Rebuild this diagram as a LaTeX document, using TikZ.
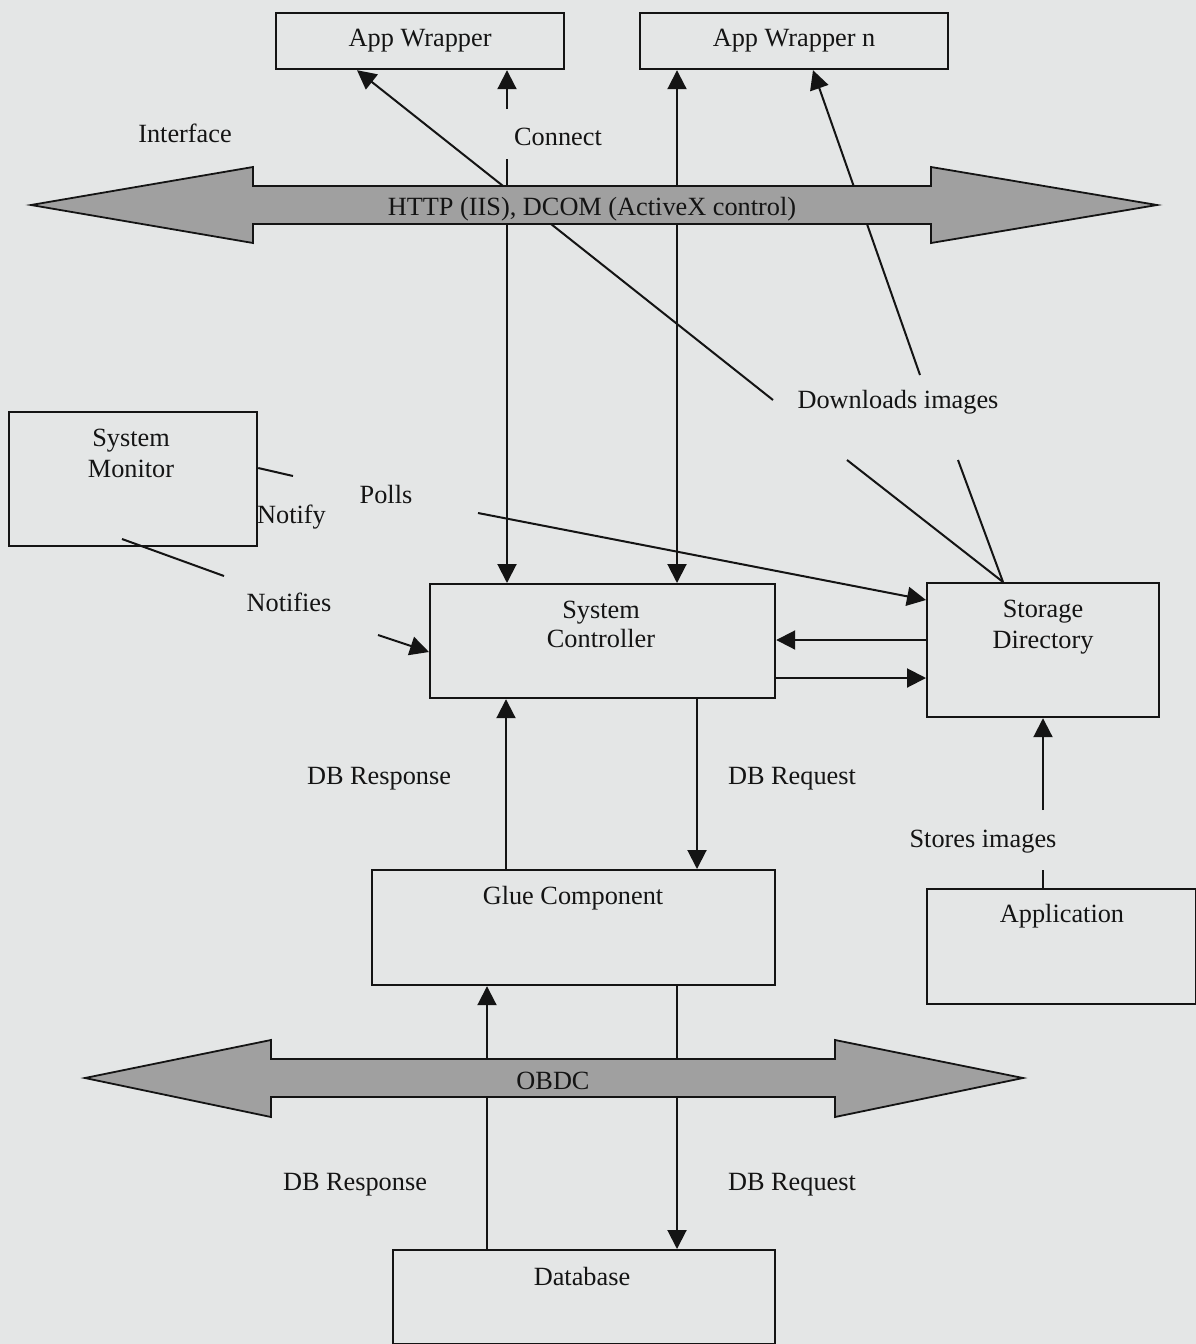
\documentclass[tikz,border=0pt]{standalone}
\usepackage{fontspec}
\setmainfont{Liberation Serif}
\usetikzlibrary{arrows.meta}
\definecolor{paper}{RGB}{228,230,230}
\definecolor{busgray}{RGB}{160,160,160}
\definecolor{ink}{RGB}{20,20,20}
\begin{document}
\begin{tikzpicture}[x=1pt,y=-1pt,
  every node/.style={font=\fontsize{26.3}{31}\selectfont, inner sep=0pt, text=ink},
  box/.style={draw=ink, line width=2.2pt, rectangle, anchor=north west},
  lbl/.style={anchor=base},
  conn/.style={draw=ink, line width=2pt},
  arr/.style={conn, -{Triangle[length=19pt,width=19pt]}},
  darr/.style={conn, {Triangle[length=19pt,width=19pt]}-{Triangle[length=19pt,width=19pt]}},
  bus/.style={draw=ink, line width=1.8pt, fill=busgray, line join=miter},
]
\useasboundingbox (0,0) rectangle (1196,1344);
\fill[paper] (0,0) rectangle (1196,1344);

% ---------- components ----------
\node[box, minimum width=288, minimum height=56] (aw)   at (275,12)   {App Wrapper};
\node[box, minimum width=308, minimum height=56] (awn)  at (639,12)   {App Wrapper n};
\node[box, minimum width=248, minimum height=134] (mon) at (8,411)    {};
\node[box, minimum width=345, minimum height=114] (ctrl) at (429,583) {};
\node[box, minimum width=232, minimum height=134] (stor) at (926,582) {};
\node[box, minimum width=403, minimum height=115] (glue) at (371,869) {};
\node[box, minimum width=269, minimum height=115] (app)  at (926,888) {};
\node[box, minimum width=382, minimum height=94]  (db)   at (392,1249) {};

% box captions
\node[lbl] (monA)  at (131,446)  {System};
\node[lbl] (monB)  at (131,477)  {Monitor};
\node[lbl] (ctrlA) at (601,618)  {System};
\node[lbl] (ctrlB) at (601,647)  {Controller};
\node[lbl] (storA) at (1043,617) {Storage};
\node[lbl] (storB) at (1043,648) {Directory};
\node[lbl] (glueT) at (573,904)  {Glue Component};
\node[lbl] (appT)  at (1062,922) {Application};
\node[lbl] (dbT)   at (582,1285) {Database};

% ---------- free ends and crossing positions ----------
\coordinate (dlLeft)    at (773,400);
\coordinate (dlRight)   at (920,375);
\coordinate (dlS1)      at (847,460);
\coordinate (dlS2)      at (958,460);
\coordinate (xStorTop)  at (1003,0);
\coordinate (xAwDiag)   at (357,0);
\coordinate (xAwnDiag)  at (813,0);
\coordinate (xConn)     at (507,0);
\coordinate (xDual)     at (677,0);
\coordinate (connLow)   at (507,109);
\coordinate (connHigh)  at (507,159);
\coordinate (pollStart) at (478,513);
\coordinate (yPoll)     at (0,600);
\coordinate (yNotify)   at (0,468);
\coordinate (notifyEnd) at (293,476);
\coordinate (nfA)       at (122,539);
\coordinate (nfB)       at (224,576);
\coordinate (nfC)       at (378,635);
\coordinate (yNf)       at (0,652);
\coordinate (yS2C)      at (0,640);
\coordinate (yC2S)      at (0,678);
\coordinate (xResp)     at (506,0);
\coordinate (xReq)      at (697,0);
\coordinate (storesTop) at (1043,810);
\coordinate (storesBot) at (1043,870);
\coordinate (xLowResp)  at (487,0);
\coordinate (xLowReq)   at (677,0);

% ---------- connectors ----------
\draw[arr]  (dlLeft) -- (aw.south -| xAwDiag);
\draw[arr]  (dlRight) -- (awn.south -| xAwnDiag);
\draw[conn] (stor.north -| xStorTop) -- (dlS1);
\draw[conn] (stor.north -| xStorTop) -- (dlS2);
\draw[arr]  (connLow) -- (aw.south -| xConn);
\draw[arr]  (connHigh) -- (ctrl.north -| xConn);
\draw[darr] (awn.south -| xDual) -- (ctrl.north -| xDual);
\draw[arr]  (pollStart) -- (stor.west |- yPoll);
\draw[conn] (mon.east |- yNotify) -- (notifyEnd);
\draw[conn] (nfA) -- (nfB);
\draw[arr]  (nfC) -- (ctrl.west |- yNf);
\draw[arr]  (stor.west |- yS2C) -- (ctrl.east |- yS2C);
\draw[arr]  (ctrl.east |- yC2S) -- (stor.west |- yC2S);
\draw[arr]  (glue.north -| xResp) -- (ctrl.south -| xResp);
\draw[arr]  (ctrl.south -| xReq) -- (glue.north -| xReq);
\draw[arr]  (storesTop) -- (stor.south -| storesTop);
\draw[conn] (storesBot) -- (app.north -| storesBot);
\draw[arr]  (db.north -| xLowResp) -- (glue.south -| xLowResp);
\draw[arr]  (glue.south -| xLowReq) -- (db.north -| xLowReq);

% ---------- buses ----------
\path[bus] (31,205) -- (253,167) -- (253,186) -- (931,186) -- (931,167) -- (1157,205)
  -- (931,243) -- (931,224) -- (253,224) -- (253,243) -- cycle;
\node[lbl] (httpT) at (592,215) {HTTP (IIS), DCOM (ActiveX control)};

\path[bus] (85,1078) -- (271,1040) -- (271,1059) -- (835,1059) -- (835,1040) -- (1023,1078)
  -- (835,1117) -- (835,1097) -- (271,1097) -- (271,1117) -- cycle;
\node[lbl] (odbcT) at (553,1089) {OBDC};

% ---------- connector labels ----------
\node[lbl] (ifaceT)  at (185,142)  {Interface};
\node[lbl] (connT)   at (558,145)  {Connect};
\node[lbl] (dlT)     at (898,408)  {Downloads images};
\node[lbl, anchor=base west] (notifyT) at (257,523) {Notify};
\node[lbl] (pollsT)  at (386,503)  {Polls};
\node[lbl] (nfT)     at (289,611)  {Notifies};
\node[lbl] (respT)   at (379,784)  {DB Response};
\node[lbl] (reqT)    at (792,784)  {DB Request};
\node[lbl] (storesT) at (983,847)  {Stores images};
\node[lbl] (resp2T)  at (355,1190) {DB Response};
\node[lbl] (req2T)   at (792,1190) {DB Request};
\end{tikzpicture}
\end{document}
